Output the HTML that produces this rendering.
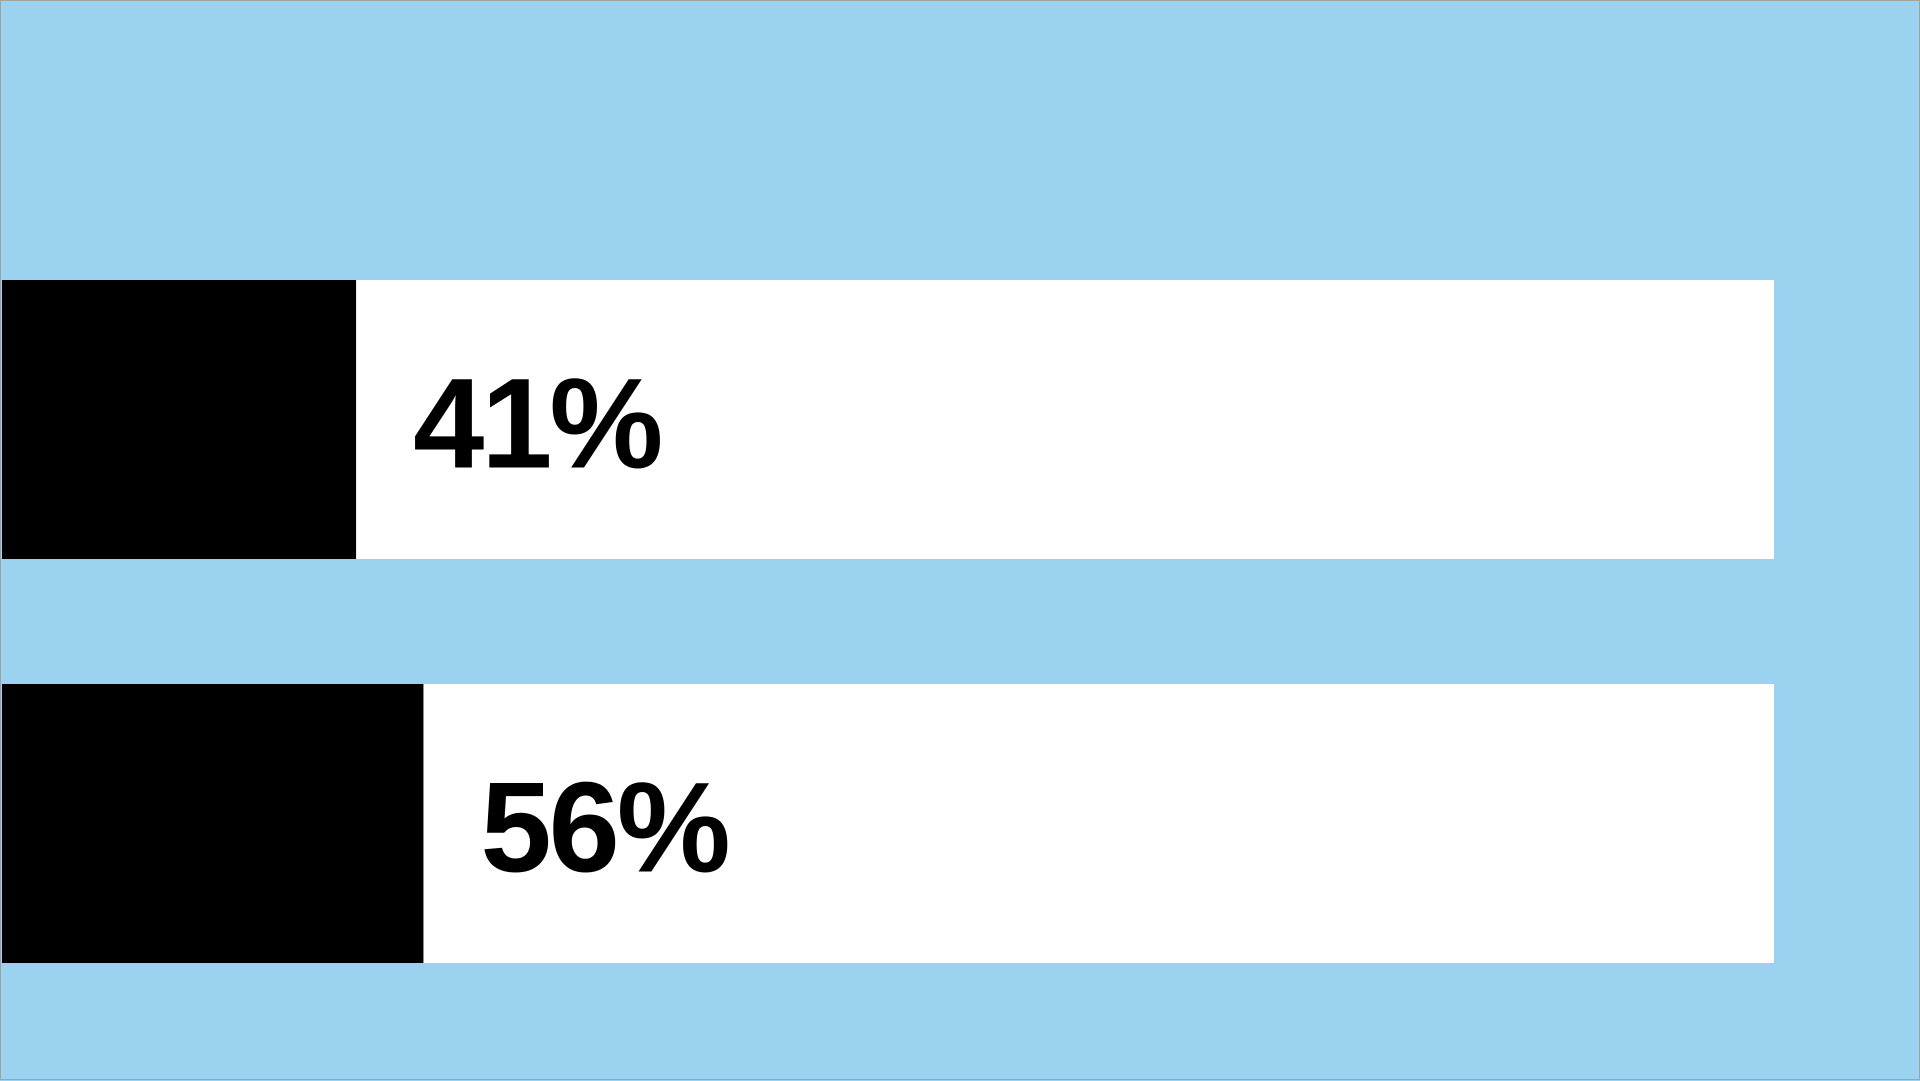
<!DOCTYPE html>
<html><head><meta charset="utf-8"><style>
html,body{margin:0;padding:0;}
body{width:1920px;height:1080px;background:#9bd2f0;position:relative;overflow:hidden;box-sizing:border-box;border:1px solid #a0a0a0;font-family:"Liberation Sans",sans-serif;}
svg{position:absolute;left:0;top:0;}
</style></head><body>
<svg id="chart" width="1920" height="1080"></svg>
<script>
const categories = ["A","B"];
const values = [41,56];
const labels = ["41%","56%"];
const NS="http://www.w3.org/2000/svg";
const svg=document.getElementById('chart');
function xScale(v){return 171 + v*4.49;}
const trackLeft=1, trackRight=1773, rowTop=[279,683], rowH=279;
function yScale(i){return rowTop[i];}
categories.forEach((c,i)=>{
  const y=yScale(i);
  const track=document.createElementNS(NS,'rect');
  
  
  track.setAttribute('x',trackLeft);track.setAttribute('y',y);
  track.setAttribute('width',trackRight-trackLeft);track.setAttribute('height',rowH);
  track.setAttribute('fill','#ffffff');
  svg.appendChild(track);
  const bar=document.createElementNS(NS,'rect');
  
  
  const xe=xScale(values[i]);
  bar.setAttribute('x',trackLeft);bar.setAttribute('y',y);
  bar.setAttribute('width',xe-trackLeft);bar.setAttribute('height',rowH);
  bar.setAttribute('fill','#000000');
  svg.appendChild(bar);
  const t=document.createElementNS(NS,'text');
  
  
  t.setAttribute('x',xe+57);t.setAttribute('y',y+rowH/2+48);
  t.setAttribute('font-size','128');t.setAttribute('font-weight','bold');
  t.setAttribute('letter-spacing','-3');
  t.setAttribute('font-family','"Liberation Sans", sans-serif');
  t.setAttribute('fill','#000');
  t.textContent=labels[i];
  svg.appendChild(t);
});
</script>
</body></html>
